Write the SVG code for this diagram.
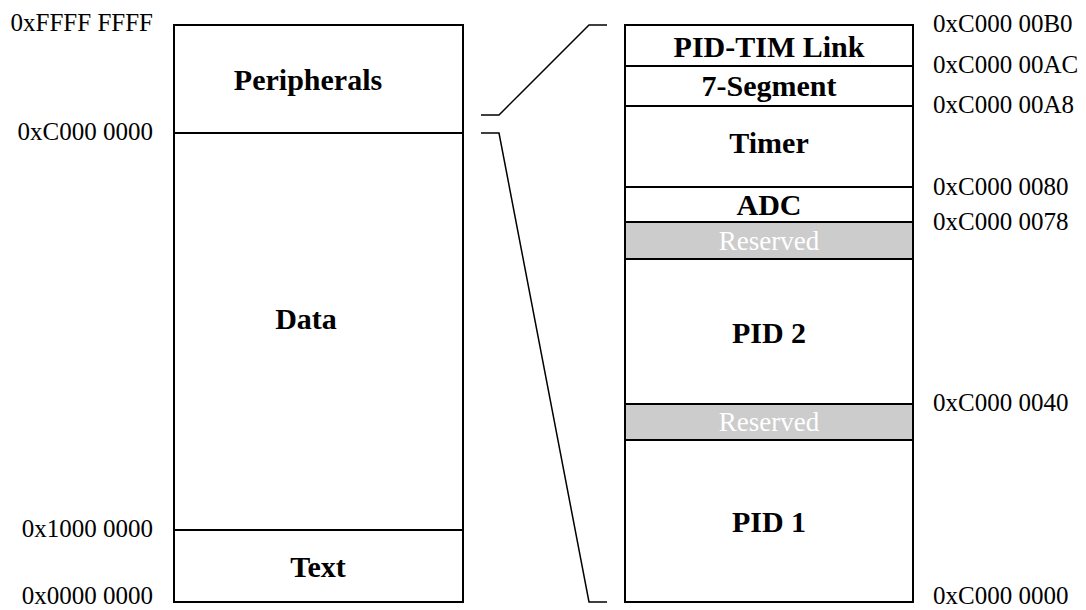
<svg xmlns="http://www.w3.org/2000/svg" width="1086" height="610" viewBox="0 0 1086 610">
  <style>
    .box { fill: #ffffff; stroke: #000000; stroke-width: 2; }
    .res { fill: #cccccc; stroke: #000000; stroke-width: 2; }
    .lbl { font-family: "Liberation Serif", "Times New Roman", serif; font-weight: bold; font-size: 30px; fill: #000000; text-anchor: middle; }
    .rlbl { font-family: "Liberation Serif", "Times New Roman", serif; font-size: 27px; fill: #ffffff; text-anchor: middle; }
    .addr { font-family: "Liberation Serif", "Times New Roman", serif; font-size: 25px; fill: #000000; }
    .addrL { text-anchor: end; }
    .conn { fill: none; stroke: #000000; stroke-width: 1.5; }
  </style>
  <rect width="1086" height="610" fill="#ffffff"/>

  <!-- Full address space -->
  <g id="peripherals">
    <rect class="box" x="174" y="25" width="289" height="108"/>
    <text class="lbl" x="308" y="90">Peripherals</text>
  </g>
  <g id="data">
    <rect class="box" x="174" y="133" width="289" height="397"/>
    <text class="lbl" x="306" y="329">Data</text>
  </g>
  <g id="text">
    <rect class="box" x="174" y="530" width="289" height="72"/>
    <text class="lbl" x="318" y="577">Text</text>
  </g>

  <g id="addr-left" class="addr addrL">
    <text x="153" y="31">0xFFFF FFFF</text>
    <text x="153" y="140">0xC000 0000</text>
    <text x="153" y="537">0x1000 0000</text>
    <text x="153" y="604">0x0000 0000</text>
  </g>

  <!-- Peripheral register map -->
  <g id="pid-tim-link">
    <rect class="box" x="625" y="25" width="288" height="41"/>
    <text class="lbl" x="769" y="57">PID-TIM Link</text>
  </g>
  <g id="seven-segment">
    <rect class="box" x="625" y="66" width="288" height="40"/>
    <text class="lbl" x="769" y="96">7-Segment</text>
  </g>
  <g id="timer">
    <rect class="box" x="625" y="106" width="288" height="81"/>
    <text class="lbl" x="769" y="153">Timer</text>
  </g>
  <g id="adc">
    <rect class="box" x="625" y="187" width="288" height="35"/>
    <text class="lbl" x="769" y="215">ADC</text>
  </g>
  <g id="reserved-1">
    <rect class="res" x="625" y="222" width="288" height="37"/>
    <text class="rlbl" x="769" y="250">Reserved</text>
  </g>
  <g id="pid-2">
    <rect class="box" x="625" y="259" width="288" height="145"/>
    <text class="lbl" x="769" y="343">PID 2</text>
  </g>
  <g id="reserved-2">
    <rect class="res" x="625" y="404" width="288" height="36"/>
    <text class="rlbl" x="769" y="431">Reserved</text>
  </g>
  <g id="pid-1">
    <rect class="box" x="625" y="440" width="288" height="162"/>
    <text class="lbl" x="769" y="532">PID 1</text>
  </g>

  <g id="addr-right" class="addr">
    <text x="933" y="32">0xC000 00B0</text>
    <text x="933" y="73">0xC000 00AC</text>
    <text x="933" y="113">0xC000 00A8</text>
    <text x="933" y="195">0xC000 0080</text>
    <text x="933" y="230">0xC000 0078</text>
    <text x="933" y="411">0xC000 0040</text>
    <text x="933" y="604">0xC000 0000</text>
  </g>

  <!-- Zoom brackets -->
  <g id="connectors">
    <polyline class="conn" points="607,25 589,25 499,115 481,115"/>
    <polyline class="conn" points="481,133 499,133 589,602 607,602"/>
  </g>
</svg>
